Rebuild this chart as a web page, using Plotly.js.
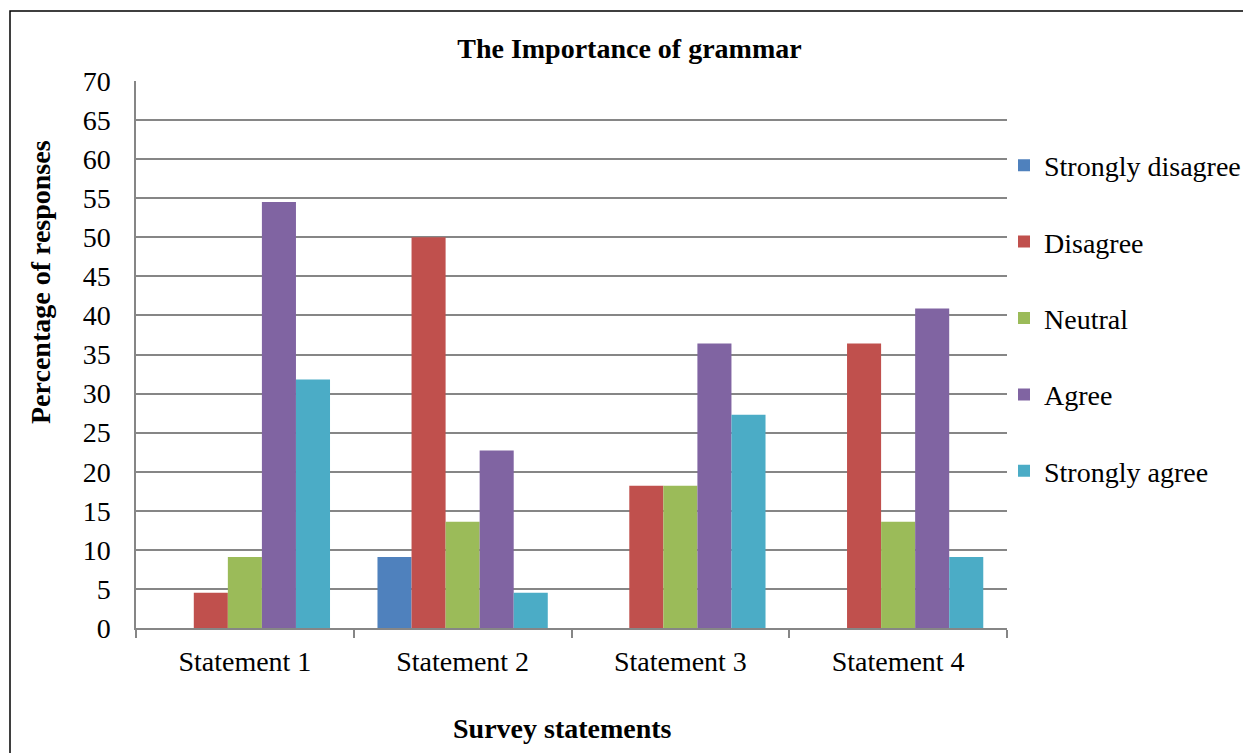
<!DOCTYPE html>
<html>
<head>
<meta charset="utf-8">
<script src="https://cdn.plot.ly/plotly-3.0.1.min.js"></script>
<style>html,body{margin:0;padding:0;background:#fff;}#chart{width:1243px;height:753px;}</style>
</head>
<body>
<div id="chart"></div>
<script>
var categories = ["Statement 1", "Statement 2", "Statement 3", "Statement 4"];
var seriesNames = ["Strongly disagree", "Disagree", "Neutral", "Agree", "Strongly agree"];
var stronglyDisagree = [0, 9.1, 0, 0];
var disagree = [4.5, 50, 18.2, 36.4];
var neutral = [9.1, 13.6, 18.2, 13.6];
var agree = [54.5, 22.7, 36.4, 40.9];
var stronglyAgree = [31.8, 4.5, 27.3, 9.1];
var yTicks = [0, 5, 10, 15, 20, 25, 30, 35, 40, 45, 50, 55, 60, 65, 70];
var colors = ["#4F81BD", "#C0504D", "#9BBB59", "#8064A2", "#4BACC6"];
var values = [stronglyDisagree, disagree, neutral, agree, stronglyAgree];

var FONT = "'Liberation Serif', 'Times New Roman', serif";
var FS = 28;
var traces = seriesNames.map(function (name, i) {
  return {
    type: "bar",
    name: name,
    x: categories,
    y: values[i],
    marker: {color: colors[i], line: {width: 0}},
    legendgroup: "g" + i,
    hoverinfo: "x+y+name"
  };
});

var layout = {
  width: 1243,
  height: 753,
  margin: {l: 136, r: 236, t: 81, b: 125, pad: 0, autoexpand: false},
  paper_bgcolor: "#ffffff",
  plot_bgcolor: "#ffffff",
  font: {family: FONT, size: FS, color: "#000000"},
  barmode: "group",
  bargap: 0.218,
  bargroupgap: 0,
  title: {
    text: "<b>The Importance of grammar</b>",
    font: {family: FONT, size: FS, color: "#000"},
    xref: "container", yref: "container",
    x: 0.5064, y: 1 - 48 / 753, xanchor: "center", yanchor: "middle"
  },
  xaxis: {
    type: "category",
    showgrid: false,
    showline: true,
    linecolor: "#868686",
    linewidth: 1.5,
    ticks: "outside",
    tickson: "boundaries",
    ticklen: 8,
    tickcolor: "#868686",
    tickwidth: 1.5,
    ticklabelstandoff: 8,
    tickfont: {family: FONT, size: FS, color: "#000"},
    zeroline: false,
    fixedrange: true
  },
  yaxis: {
    range: [0, 70],
    tickvals: yTicks,
    ticktext: yTicks.map(String),
    showgrid: true,
    gridcolor: "#868686",
    gridwidth: 1.5,
    showline: true,
    linecolor: "#868686",
    linewidth: 1.5,
    ticks: "",
    ticklabelstandoff: 18,
    tickfont: {family: FONT, size: FS, color: "#000"},
    zeroline: false,
    fixedrange: true
  },
  showlegend: true,
  legend: {
    xref: "container", yref: "container",
    x: 1004 / 1243, xanchor: "left",
    y: 1 - 140.5 / 753, yanchor: "top",
    font: {family: FONT, size: FS, color: "#000"},
    tracegroupgap: 37,
    itemclick: false,
    bgcolor: "rgba(0,0,0,0)",
    traceorder: "grouped"
  },
  annotations: [
    {
      text: "<b>Percentage of responses</b>",
      xref: "paper", yref: "paper",
      x: (40 - 136) / 871, y: (628 - 282) / 547,
      textangle: -90, showarrow: false,
      xanchor: "center", yanchor: "middle",
      font: {family: FONT, size: FS, color: "#000"}
    },
    {
      text: "<b>Survey statements</b>",
      xref: "paper", yref: "paper",
      x: (562 - 136) / 871, y: (628 - 728) / 547,
      showarrow: false,
      xanchor: "center", yanchor: "middle",
      font: {family: FONT, size: FS, color: "#000"}
    }
  ],
  shapes: [
    {
      type: "rect", xref: "paper", yref: "paper",
      x0: (10 - 136) / 871, x1: 1.6,
      y0: -0.5, y1: (628 - 11) / 547,
      line: {color: "#000", width: 1.5},
      fillcolor: "rgba(0,0,0,0)",
      layer: "below"
    }
  ]
};

Plotly.newPlot("chart", traces, layout, {displayModeBar: false});
</script>
</body>
</html>
